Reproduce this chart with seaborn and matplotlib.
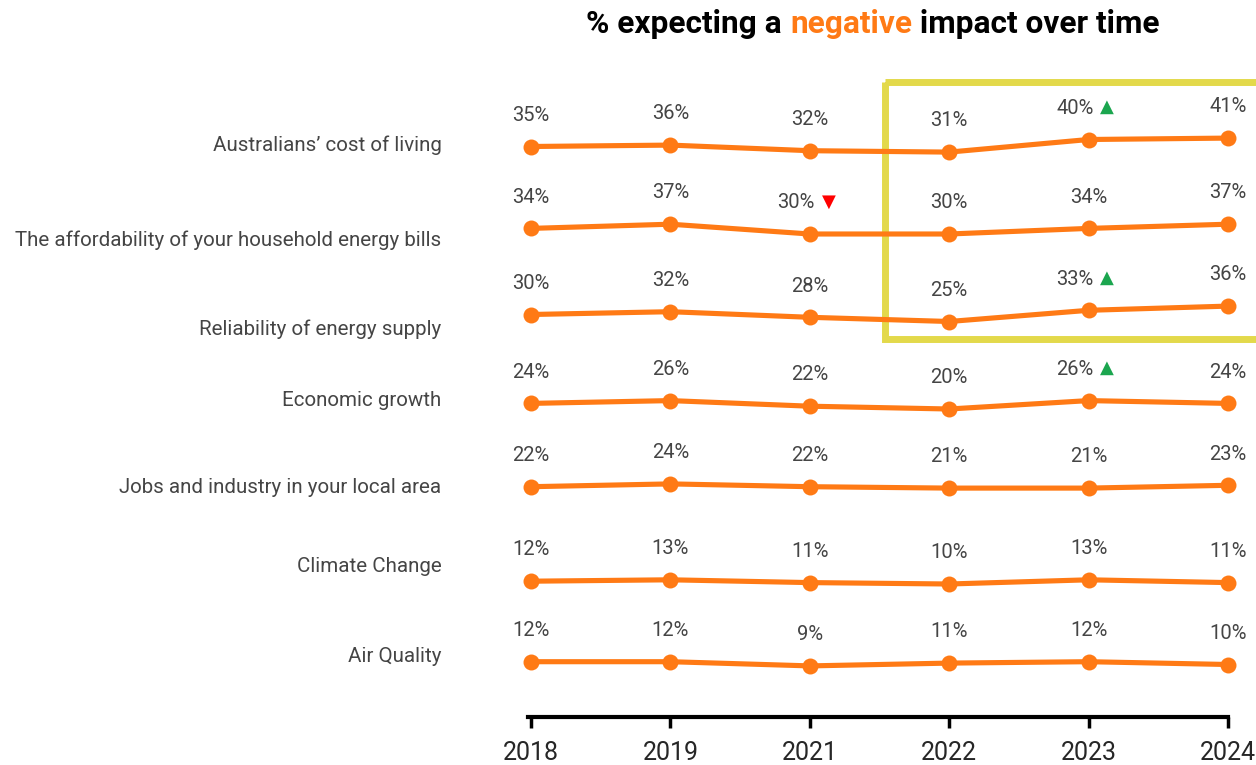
import pandas as pd
import numpy as np
import matplotlib.pyplot as plt
from matplotlib.patches import Rectangle
import seaborn as sns

sns.set_style('white')
plt.rcParams['font.family'] = ['Roboto', 'DejaVu Sans']

# Данные
years = ['2018', '2019', '2021', '2022', '2023', '2024']
categories = [
    'Australians\u2019 cost of living',
    'The affordability of your household energy bills',
    'Reliability of energy supply',
    'Economic growth',
    'Jobs and industry in your local area',
    'Climate Change',
    'Air Quality',
]
cost_of_living = [35, 36, 32, 31, 40, 41]
energy_bills = [34, 37, 30, 30, 34, 37]
energy_supply = [30, 32, 28, 25, 33, 36]
economic_growth = [24, 26, 22, 20, 26, 24]
local_jobs = [22, 24, 22, 21, 21, 23]
climate_change = [12, 13, 11, 10, 13, 11]
air_quality = [12, 12, 9, 11, 12, 10]
series = [cost_of_living, energy_bills, energy_supply, economic_growth,
          local_jobs, climate_change, air_quality]

# значимые изменения: (строка, год, направление)
changes = [(0, '2023', 'up'), (1, '2021', 'down'), (2, '2023', 'up'), (3, '2023', 'up')]

ORANGE = '#FF7A15'
GREEN = '#1BA64F'
RED = '#FF0000'
GREY = '#454545'

# раскладка строк (в пикселях по вертикали)
row_top = 195.5
row_gap = 80.5
px_per_pct = 1.4
label_top = 145
label_gap = 85.2
label_nudge = [0, 10, 14, 0, 2, -4, 0]

rows = []
for i, vals in enumerate(series):
    for j, v in enumerate(vals):
        rows.append({'row': i, 'xi': j, 'value': v,
                     'y': row_top + row_gap * i - px_per_pct * v})
df = pd.DataFrame(rows)

fig = plt.figure(figsize=(12.56, 7.65), dpi=100)
ax = fig.add_axes([0, 48 / 765, 1, 717 / 765])

sns.lineplot(data=df, x='xi', y='y', units='row', estimator=None,
             color=ORANGE, linewidth=3.7, marker='o', markersize=11.5,
             markeredgewidth=0, ax=ax, legend=False)

ax.set_xlim(-531 / 139.4, (1256 - 531) / 139.4)
ax.set_ylim(717, 0)

# подписи значений
for _, r in df.iterrows():
    year = years[int(r.xi)]
    flag = [c for c in changes if c[0] == r.row and c[1] == year]
    dx = -10 if flag else 0
    ax.annotate(f"{int(r.value)}%", (r.xi, r.y), xytext=(dx, 22.5),
                textcoords='offset points', ha='center', va='center',
                fontsize=14.5, color=GREY)
    if flag:
        up = flag[0][2] == 'up'
        ax.annotate('\u25B2' if up else '\u25BC', (r.xi, r.y), xytext=(13.5, 23.5),
                    textcoords='offset points', ha='center', va='center',
                    fontsize=13, color=GREEN if up else RED,
                    family=['DejaVu Sans'])

# подписи категорий
for i, name in enumerate(categories):
    ax.annotate(name, (0, label_top + label_gap * i + label_nudge[i]), xytext=(-64.5, 0),
                textcoords='offset points', ha='right', va='center',
                fontsize=14.8, color=GREY)

# жёлтая рамка вокруг 2022-2024
ax.add_patch(Rectangle((2.54, 82), 3.2, 257, fill=False,
                       edgecolor='#E3D94B', linewidth=5, clip_on=False))

# ось X
for s in ['top', 'right', 'left']:
    ax.spines[s].set_visible(False)
ax.spines['bottom'].set_linewidth(3)
ax.spines['bottom'].set_color('black')
ax.spines['bottom'].set_bounds(-0.02, 5)
ax.set_xticks(range(len(years)))
ax.set_xticklabels(years)
ax.tick_params(axis='x', direction='out', length=8, width=2.5, color='black',
               labelsize=18, pad=9, bottom=True)
ax.set_yticks([])
ax.set_xlabel('')
ax.set_ylabel('')

# заголовок из трёх частей
parts = [('% expecting a ', 'black'), ('negative', ORANGE), (' impact over time', 'black')]
fig.canvas.draw()
renderer = fig.canvas.get_renderer()
texts = []
for txt, col in parts:
    t = fig.text(0, 1 - 24 / 765, txt, fontsize=22.8, fontweight='bold',
                 color=col, va='center', ha='left')
    texts.append(t)
widths = [t.get_window_extent(renderer).width for t in texts]
x = 873 - sum(widths) / 2
for t, w in zip(texts, widths):
    t.set_x(x / 1256)
    x += w

plt.savefig('out.png', dpi=100)
